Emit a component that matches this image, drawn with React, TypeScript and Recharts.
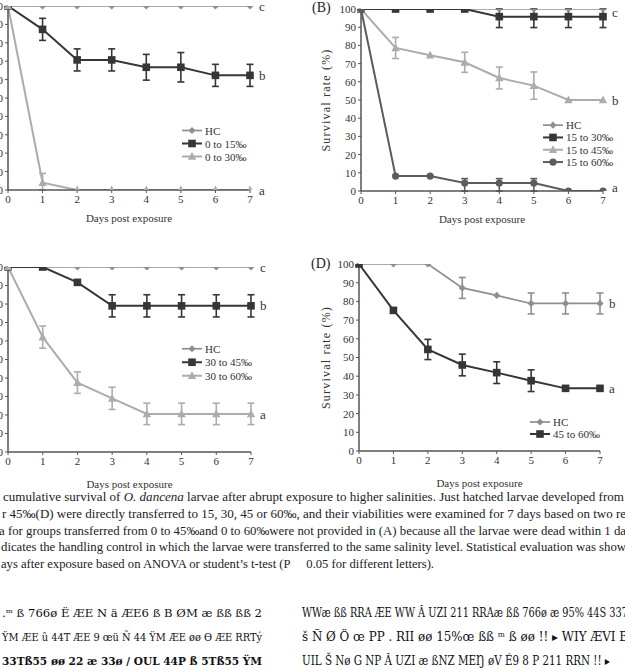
import React from 'react';
import { LineChart, Line, XAxis, YAxis, ErrorBar, Legend, ReferenceDot } from 'recharts';

// ---------- data ----------
const days = [0, 1, 2, 3, 4, 5, 6, 7];
const dayTicks = [0, 1, 2, 3, 4, 5, 6, 7];
const rateTicks = [0, 10, 20, 30, 40, 50, 60, 70, 80, 90, 100];

// Panel A
const aHC = [100, 100, 100, 100, 100, 100, 100, 100];
const a0to15 = [100, 87.3, 70.7, 70.7, 66.7, 66.7, 62.3, 62.3];
const a0to15Err = [null, 6, 6, 6, 7, 8, 6, 6];
const a0to30 = [100, 4, 0, 0, 0, 0, 0, 0];
const a0to30Err = [null, [4, 5], null, null, null, null, null, null];
const aLetters = [{ y: 100, t: 'c' }, { y: 62.3, t: 'b' }, { y: 0, t: 'a' }];

// Panel B
const bHC = [100, 100, 100, 100, 100, 100, 100, 100];
const b15to30 = [100, 100, 100, 100, 95.8, 95.8, 95.8, 95.8];
const b15to30Err = [null, null, null, null, [6, 4.2], [6, 4.2], [6, 4.2], [6, 4.2]];
const b15to45 = [100, 78.6, 74.6, 70.7, 62.1, 57.9, 50, 50];
const b15to45Err = [null, 5.8, null, 5.5, 6, 7.5, null, null];
const b15to60 = [100, 8.2, 8.2, 4.4, 4.4, 4.4, 0, 0];
const b15to60Err = [null, null, null, [4.4, 2.4], [4.4, 2.4], [4.4, 2.4], null, null];
const bLetters = [{ y: 98, t: 'c' }, { y: 50, t: 'b' }, { y: 2, t: 'a' }];

// Panel C
const cHC = [100, 100, 100, 100, 100, 100, 100, 100];
const c30to45 = [100, 100, 91.7, 79, 79, 79, 79, 79];
const c30to45Err = [null, null, null, 6, 6, 6, 6, 6];
const c30to60 = [100, 62.1, 37.5, 29, 20.6, 20.6, 20.6, 20.6];
const c30to60Err = [null, 6, 5.8, 6, 5.8, 5.8, 5.8, 5.8];
const cLetters = [{ y: 100, t: 'c' }, { y: 79, t: 'b' }, { y: 20.6, t: 'a' }];

// Panel D
const dHC = [100, 100, 100, 87.2, 83.2, 78.9, 78.9, 78.9];
const dHCErr = [null, null, null, 5.6, null, 5.6, 5.6, 5.6];
const d45to60 = [100, 75.2, 54.3, 46, 41.9, 37.6, 33.5, 33.5];
const d45to60Err = [null, null, 5.4, 5.8, 5.8, 5.8, null, null];
const dLetters = [{ y: 78.9, t: 'b' }, { y: 33.5, t: 'a' }];

const captionLines = [
  'cumulative survival of ',
  'r 45‰(D) were directly transferred to 15, 30, 45 or 60‰, and their viabilities were examined for 7 days based on two re',
  'a for groups transferred from 0 to 45‰and 0 to 60‰were not provided in (A) because all the larvae were dead within 1 da',
  'dicates the handling control in which the larvae were transferred to the same salinity level. Statistical evaluation was show',
  'ays after exposure based on ANOVA or student\u2019s t-test (P\u00a0\u00a0\u00a0\u00a0 0.05 for different letters).',
];
const caption1Italic = 'O. dancena';
const caption1Rest = ' larvae after abrupt exposure to higher salinities. Just hatched larvae developed from';

const junkLeft = [
  '.\u1d50 ß 766ø Ë ÆE N ä ÆE6 ß B ØM æ ßß ßß 2',
  'ŸM ÆE û 44T ÆE 9 œü Ñ 44 ŸM ÆE øø Ө ÆE RRTý',
  '33Tß55 øø 22 æ 33ø / OUL 44P ß 5Tß55 ŸM',
];
const junkRight = [
  'WWæ ßß RRA ÆE WW Ȃ UZI 211 RRAæ ßß 766ø æ 95% 44S 337',
  'š Ñ Ø Ö œ PP . RII øø 15%œ ßß \u1d50 ß øø !! ▸ WIY ÆVI B',
  'UIL Š Nø G NP Ȃ UZI æ ßNZ MEŊ øV É9 8 P 211 RRN !! ▸',
];

// ---------- styles ----------
type Marker = 'diamond' | 'square' | 'triangle' | 'circle';
type SeriesDef = { name: string; key: string; color: string; marker: Marker; size: number; width: number };

const HC_STYLE = { color: '#8f8f8f', marker: 'diamond' as Marker, size: 3.6, width: 1.7 };
const DARK_STYLE = { color: '#363636', marker: 'square' as Marker, size: 3.8, width: 2 };
const LIGHT_STYLE = { color: '#acacac', marker: 'triangle' as Marker, size: 4.2, width: 2 };
const CIRCLE_STYLE = { color: '#5c5c5c', marker: 'circle' as Marker, size: 3.6, width: 2 };

const serif = '"Liberation Serif", "Times New Roman", serif';

function MarkerShape({ m, cx, cy, s, color }: { m: Marker; cx: number; cy: number; s: number; color: string }) {
  if (m === 'diamond') return <path d={`M${cx},${cy - s} L${cx + s},${cy} L${cx},${cy + s} L${cx - s},${cy} Z`} fill={color} />;
  if (m === 'square') return <rect x={cx - s} y={cy - s} width={2 * s} height={2 * s} fill={color} />;
  if (m === 'triangle') return <path d={`M${cx},${cy - s * 1.05} L${cx + s},${cy + s * 0.8} L${cx - s},${cy + s * 0.8} Z`} fill={color} />;
  return <circle cx={cx} cy={cy} r={s} fill={color} />;
}

function makeDot(sd: SeriesDef) {
  return (props: any) => {
    const { cx, cy, index } = props;
    if (cx == null || cy == null) return <g key={`d${index}`} />;
    return (
      <g key={`d${index}`}>
        <MarkerShape m={sd.marker} cx={cx} cy={cy} s={sd.size} color={sd.color} />
      </g>
    );
  };
}

function LegendBox({ items, rowH }: { items: SeriesDef[]; rowH: number }) {
  return (
    <svg width={95} height={items.length * rowH + 4} style={{ overflow: 'visible', display: 'block' }}>
      {items.map((it, i) => {
        const y = i * rowH + rowH / 2;
        return (
          <g key={it.key}>
            <line x1={0} x2={20} y1={y} y2={y} stroke={it.color} strokeWidth={it.width} />
            <MarkerShape m={it.marker} cx={10} cy={y} s={it.size} color={it.color} />
            <text x={23} y={y + 4} fontSize={11} fill="#333" style={{ fontFamily: serif }}>
              {it.name}
            </text>
          </g>
        );
      })}
    </svg>
  );
}

type PanelProps = {
  left: number;
  top: number;
  width: number;
  height: number;
  marginTop: number;
  yWidth: number;
  xHeight: number;
  rows: any[];
  series: SeriesDef[];
  letters: { y: number; t: string }[];
  legendX: number;
  legendY: number;
  rowH: number;
  yTitle: boolean;
};

const axisColor = '#555';
const tickStyle = { fontSize: 11, fill: '#333' };

function Panel(p: PanelProps) {
  return (
    <div style={{ position: 'absolute', left: p.left, top: p.top }}>
      <LineChart width={p.width} height={p.height} data={p.rows} margin={{ top: p.marginTop, right: 20, bottom: 0, left: 0 }}>
        <XAxis
          dataKey="day"
          type="number"
          domain={[0, 7]}
          ticks={dayTicks}
          interval={0}
          height={p.xHeight}
          tick={tickStyle}
          tickSize={3}
          tickMargin={2}
          axisLine={{ stroke: axisColor, strokeWidth: 1.5 }}
          tickLine={{ stroke: axisColor }}
          label={{
            value: 'Days post exposure',
            position: 'insideBottom',
            offset: 4,
            style: { fontSize: 11, fill: '#333' },
          }}
        />
        <YAxis
          type="number"
          domain={[0, 100]}
          ticks={rateTicks}
          interval={0}
          allowDataOverflow
          width={p.yWidth}
          tick={tickStyle}
          tickSize={3}
          tickMargin={2}
          axisLine={{ stroke: axisColor, strokeWidth: 1.5 }}
          tickLine={{ stroke: axisColor }}
          label={
            p.yTitle
              ? {
                  value: 'Survival rate (%)',
                  angle: -90,
                  position: 'insideLeft',
                  offset: 16,
                  style: { textAnchor: 'middle', fontSize: 12, letterSpacing: 1.2, fill: '#333' },
                }
              : undefined
          }
        />
        {p.series.map((s) => (
          <Line
            key={s.key}
            dataKey={s.key}
            name={s.name}
            type="linear"
            stroke={s.color}
            strokeWidth={s.width}
            dot={makeDot(s)}
            activeDot={false}
            isAnimationActive={false}
          >
            <ErrorBar dataKey={`${s.key}Err`} direction="y" width={3.5} stroke={s.color} strokeWidth={1.6} />
          </Line>
        ))}
        {p.letters.map((l, i) => (
          <ReferenceDot
            key={`l${i}`}
            x={7}
            y={l.y}
            r={0}
            fill="none"
            stroke="none"
            ifOverflow="visible"
            label={{ value: l.t, position: 'right', offset: 9, fontSize: 13, fill: '#333' }}
          />
        ))}
        <Legend
          layout="vertical"
          align="center"
          verticalAlign="middle"
          wrapperStyle={{ left: p.legendX - p.left, top: p.legendY - p.top, width: 95, height: 'auto' }}
          content={() => <LegendBox items={p.series} rowH={p.rowH} />}
        />
      </LineChart>
    </div>
  );
}

function buildRows(cols: Record<string, any[]>) {
  return days.map((d, i) => {
    const r: any = { day: d };
    Object.keys(cols).forEach((k) => {
      r[k] = cols[k][i];
    });
    return r;
  });
}

const rowsA = buildRows({ hc: aHC, s1: a0to15, s1Err: a0to15Err, s2: a0to30, s2Err: a0to30Err });
const rowsB = buildRows({ hc: bHC, s1: b15to30, s1Err: b15to30Err, s2: b15to45, s2Err: b15to45Err, s3: b15to60, s3Err: b15to60Err });
const rowsC = buildRows({ hc: cHC, s1: c30to45, s1Err: c30to45Err, s2: c30to60, s2Err: c30to60Err });
const rowsD = buildRows({ hc: dHC, hcErr: dHCErr, s1: d45to60, s1Err: d45to60Err });

const seriesA: SeriesDef[] = [
  { name: 'HC', key: 'hc', ...HC_STYLE },
  { name: '0 to 15‰', key: 's1', ...DARK_STYLE },
  { name: '0 to 30‰', key: 's2', ...LIGHT_STYLE },
];
const seriesB: SeriesDef[] = [
  { name: 'HC', key: 'hc', ...HC_STYLE },
  { name: '15 to 30‰', key: 's1', ...DARK_STYLE },
  { name: '15 to 45‰', key: 's2', ...LIGHT_STYLE },
  { name: '15 to 60‰', key: 's3', ...CIRCLE_STYLE },
];
const seriesC: SeriesDef[] = [
  { name: 'HC', key: 'hc', ...HC_STYLE },
  { name: '30 to 45‰', key: 's1', ...DARK_STYLE },
  { name: '30 to 60‰', key: 's2', ...LIGHT_STYLE },
];
const seriesD: SeriesDef[] = [
  { name: 'HC', key: 'hc', ...HC_STYLE },
  { name: '45 to 60‰', key: 's1', ...DARK_STYLE },
];

const css = `
.fig-root, .fig-root text, .fig-root tspan { font-family: "Liberation Serif", "Times New Roman", serif !important; }
.fig-root .junk text { font-family: "DejaVu Serif", serif !important; }
`;

export default function App() {
  return (
    <div
      className="fig-root"
      style={{
        position: 'fixed',
        left: 0,
        top: 0,
        width: 625,
        height: 671,
        overflow: 'hidden',
        background: '#fff',
        fontFamily: serif,
      }}
    >
      <style>{css}</style>
      <Panel left={-42} top={0} width={312} height={226} marginTop={6} yWidth={50} xHeight={36} rows={rowsA} series={seriesA} letters={aLetters} legendX={182} legendY={124} rowH={13} yTitle={false} />
      <Panel left={310} top={0} width={313} height={227} marginTop={9} yWidth={51} xHeight={36} rows={rowsB} series={seriesB} letters={bLetters} legendX={543} legendY={119} rowH={12.3} yTitle={true} />
      <Panel left={-42} top={250} width={313} height={242} marginTop={17} yWidth={50} xHeight={40} rows={rowsC} series={seriesC} letters={cLetters} legendX={182} legendY={342} rowH={13.5} yTitle={false} />
      <Panel left={310} top={250} width={310} height={241} marginTop={14} yWidth={49} xHeight={40} rows={rowsD} series={seriesD} letters={dLetters} legendX={530} legendY={416} rowH={12} yTitle={true} />

      <div style={{ position: 'absolute', left: 312, top: 0, fontSize: 14, color: '#222' }}>(B)</div>
      <div style={{ position: 'absolute', left: 311, top: 256, fontSize: 14, color: '#222' }}>(D)</div>

      <svg style={{ position: 'absolute', left: 0, top: 0, pointerEvents: 'none' }} width={625} height={671}>
        <g fontSize={12} fill="#222">
          <text x={3} y={501} textLength={621} lengthAdjust="spacingAndGlyphs">
            {captionLines[0]}
            <tspan fontStyle="italic">{caption1Italic}</tspan>
            {caption1Rest}
          </text>
          <text x={2} y={518} textLength={624} lengthAdjust="spacingAndGlyphs">{captionLines[1]}</text>
          <text x={-1} y={535} textLength={627} lengthAdjust="spacingAndGlyphs">{captionLines[2]}</text>
          <text x={1} y={551} textLength={625} lengthAdjust="spacingAndGlyphs">{captionLines[3]}</text>
          <text x={1} y={568} textLength={433} lengthAdjust="spacingAndGlyphs">{captionLines[4]}</text>
        </g>
        <g className="junk" fill="#111">
          {junkLeft.map((t, i) => (
            <text key={`jl${i}`} x={2} y={617 + i * 24} fontSize={10.5} textLength={260} lengthAdjust="spacingAndGlyphs" fontWeight={i === 2 ? 'bold' : 'normal'}>
              {t}
            </text>
          ))}
          {junkRight.map((t, i) => (
            <text key={`jr${i}`} x={302} y={617 + i * 24} fontSize={12} textLength={i === 2 ? 308 : 326} lengthAdjust="spacingAndGlyphs">
              {t}
            </text>
          ))}
        </g>
      </svg>
    </div>
  );
}
